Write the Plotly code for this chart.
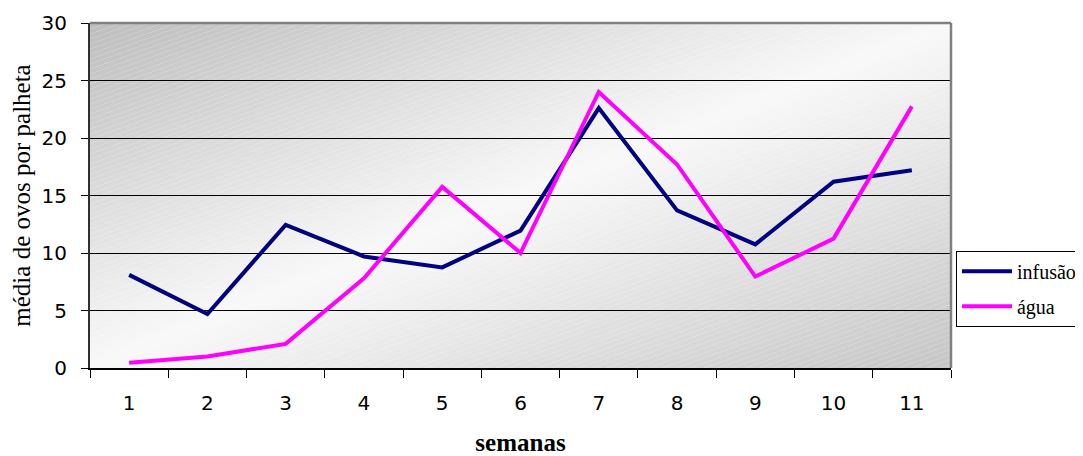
import base64
import struct
import zlib

import plotly.graph_objects as go

# ---- data ----
semanas = ["1", "2", "3", "4", "5", "6", "7", "8", "9", "10", "11"]
infusao = [8.1, 4.7, 12.45, 9.7, 8.75, 11.95, 22.6, 13.7, 10.75, 16.2, 17.2]
agua = [0.45, 1.0, 2.1, 7.8, 15.75, 10.0, 24.0, 17.7, 7.95, 11.25, 22.75]
y_ticks = [0, 5, 10, 15, 20, 25, 30]


# ---- background gradient image (style only) ----
def make_bg_png(w, h):
    rows = []
    for y in range(h):
        row = bytearray([0])
        v = y / (h - 1)
        for x in range(w):
            u = x / (w - 1)
            t = (u + v) / 2.0
            if t < 0.5:
                c = 190 + (249 - 190) * (t / 0.5)
            else:
                c = 249 - (249 - 198) * ((t - 0.5) / 0.5)
            # faint diagonal stripes
            if int(y + 0.36 * x) % 5 == 0:
                c = c + (255 - c) * 0.18
            ci = int(max(0, min(255, c)))
            row += bytes((ci, ci, ci))
        rows.append(bytes(row))
    raw = b"".join(rows)

    def chunk(tag, data):
        return (struct.pack(">I", len(data)) + tag + data +
                struct.pack(">I", zlib.crc32(tag + data) & 0xffffffff))

    png = b"\x89PNG\r\n\x1a\n"
    png += chunk(b"IHDR", struct.pack(">IIBBBBB", w, h, 8, 2, 0, 0, 0))
    png += chunk(b"IDAT", zlib.compress(raw, 9))
    png += chunk(b"IEND", b"")
    return "data:image/png;base64," + base64.b64encode(png).decode()


bg_src = make_bg_png(861, 345)

fig = go.Figure()
fig.add_trace(go.Scatter(x=semanas, y=infusao, mode="lines", name="infusão",
                         legendgroup="a",
                         line=dict(color="#000080", width=4)))
fig.add_trace(go.Scatter(x=semanas, y=agua, mode="lines", name="água",
                         legendgroup="b",
                         line=dict(color="#FF00FF", width=4)))

fig.update_layout(
    width=1075, height=448,
    margin=dict(l=82, r=132, t=15, b=88, autoexpand=False),
    paper_bgcolor="white",
    plot_bgcolor="rgba(0,0,0,0)",
    showlegend=True,
    legend=dict(
        x=1.0058, y=0.34, xanchor="left", yanchor="top",
        bordercolor="black", borderwidth=1, bgcolor="white",
        font=dict(family="Liberation Serif", size=20, color="black"),
        itemwidth=50, tracegroupgap=6,
    ),
    images=[dict(source=bg_src, xref="paper", yref="paper", x=0, y=1,
                 sizex=1, sizey=1, sizing="stretch", layer="below",
                 xanchor="left", yanchor="top")],
    shapes=[
        dict(type="line", xref="paper", yref="paper", x0=0, x1=1, y0=1, y1=1,
             line=dict(color="#808080", width=2.5)),
        dict(type="line", xref="paper", yref="paper", x0=1, x1=1, y0=0, y1=1,
             line=dict(color="#808080", width=2.5)),
    ],
)

fig.update_xaxes(
    type="category", range=[-0.5, 10.5], tickson="boundaries",
    ticks="outside", ticklen=8, automargin=False,
    tickcolor="black", tickwidth=1, showline=True, linecolor="black",
    linewidth=2, showgrid=False, zeroline=False,
    tickfont=dict(family="DejaVu Sans", size=20, color="black"),
    ticklabelstandoff=16,
    title=dict(text="<b>semanas</b>", standoff=35,
               font=dict(family="Liberation Serif", size=25, color="black")),
)
fig.update_yaxes(
    range=[0, 30], tickvals=y_ticks, ticks="outside", ticklen=7,
    automargin=False,
    tickcolor="black", tickwidth=1, showline=True, linecolor="#303030",
    linewidth=2, showgrid=True, gridcolor="black", gridwidth=1,
    zeroline=False,
    tickfont=dict(family="DejaVu Sans", size=20, color="black"),
    ticklabelstandoff=10,
    title=dict(text="média de ovos por palheta", standoff=12,
               font=dict(family="Liberation Serif", size=25, color="black")),
)

fig.write_html("out.html")
